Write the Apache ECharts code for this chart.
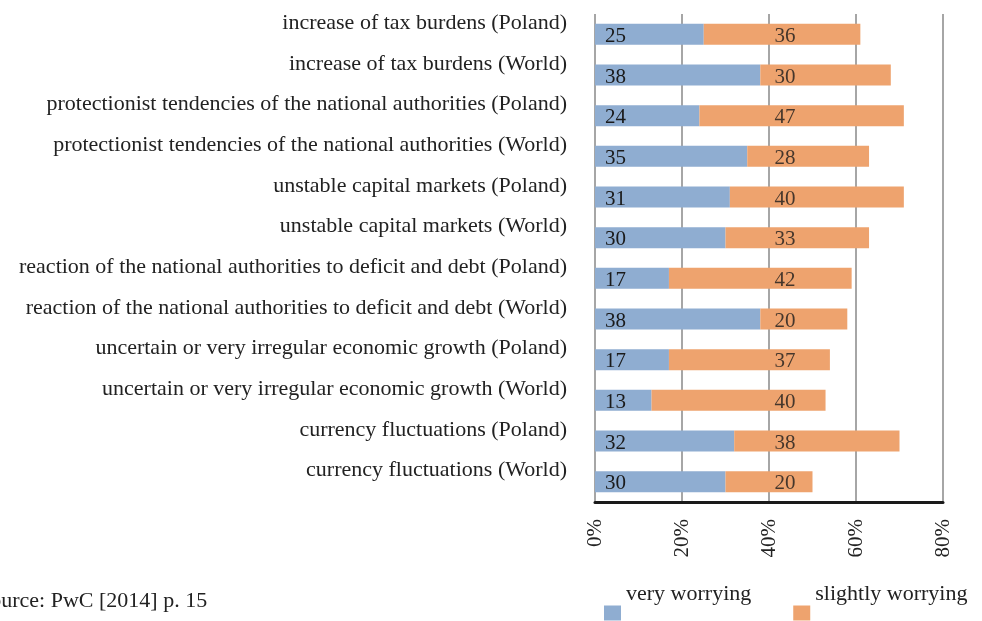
<!DOCTYPE html>
<html>
<head>
<meta charset="utf-8">
<script src="https://cdn.jsdelivr.net/npm/echarts@6/dist/echarts.min.js"></script>
<style>
  html, body { margin: 0; padding: 0; background: #fff; }
  #chart { width: 982px; height: 621px; }
</style>
</head>
<body>
<div id="chart"></div>
<script>
const categories = [
  'increase of tax burdens (Poland)',
  'increase of tax burdens (World)',
  'protectionist tendencies of the national authorities (Poland)',
  'protectionist tendencies of the national authorities (World)',
  'unstable capital markets (Poland)',
  'unstable capital markets (World)',
  'reaction of the national authorities to deficit and debt (Poland)',
  'reaction of the national authorities to deficit and debt (World)',
  'uncertain or very irregular economic growth (Poland)',
  'uncertain or very irregular economic growth (World)',
  'currency fluctuations (Poland)',
  'currency fluctuations (World)'
]
const veryWorrying = [25, 38, 24, 35, 31, 30, 17, 38, 17, 13, 32, 30]
const slightlyWorrying = [36, 30, 47, 28, 40, 33, 42, 20, 37, 40, 38, 20]
const xTicks = [0, 20, 40, 60, 80]

// orange value labels sit in a fixed column in the original
const orangeLabelAt = 43.7

const serif = '"Liberation Serif", "DejaVu Serif", serif'
const blue = '#8FADD1'
const orange = '#EEA36E'

const chart = echarts.init(document.getElementById('chart'))

const option = {
  animation: false,
  textStyle: { fontFamily: serif },
  grid: { left: 595, right: 39, top: 14, bottom: 119 },
  legend: {
    data: ['very worrying', 'slightly worrying'],
    left: 604,
    top: 583,
    padding: 0,
    itemWidth: 17,
    itemHeight: 15,
    itemGap: 42,
    icon: 'rect',
    formatter: name => '{t|' + name + '}',
    textStyle: {
      fontFamily: serif,
      fontSize: 22,
      color: '#222',
      rich: {
        t: { fontFamily: serif, fontSize: 22, color: '#222', padding: [0, 0, 38, 0] }
      }
    }
  },
  xAxis: {
    type: 'value',
    min: 0,
    max: 80,
    interval: 20,
    axisLine: { show: true, lineStyle: { color: '#1a1a1a', width: 3 } },
    axisTick: { show: false },
    splitLine: { show: true, lineStyle: { color: '#a6a6a6', width: 2 } },
    axisLabel: {
      rotate: 90,
      margin: 17,
      fontFamily: serif,
      fontSize: 21,
      color: '#222',
      formatter: v => xTicks.includes(v) ? v + '%' : ''
    }
  },
  yAxis: {
    type: 'category',
    data: categories,
    inverse: true,
    axisLine: { show: false },
    axisTick: { show: false },
    axisLabel: {
      margin: 28,
      fontFamily: serif,
      fontSize: 22,
      color: '#222',
      verticalAlign: 'bottom'
    }
  },
  series: [
    {
      name: 'very worrying',
      type: 'bar',
      stack: 'total',
      barWidth: 21,
      data: veryWorrying,
      itemStyle: { color: blue },
      label: {
        show: true,
        position: 'insideLeft',
        distance: 10,
        fontFamily: serif,
        fontSize: 21,
        color: '#1a1a1a',
        offset: [0, 2]
      }
    },
    {
      name: 'slightly worrying',
      type: 'bar',
      stack: 'total',
      barWidth: 21,
      data: slightlyWorrying,
      itemStyle: { color: orange }
    },
    {
      name: 'slightly worrying labels',
      type: 'scatter',
      symbolSize: 0,
      silent: true,
      z: 5,
      data: categories.map((c, i) => [orangeLabelAt, c, slightlyWorrying[i]]),
      label: {
        show: true,
        position: 'inside',
        fontFamily: serif,
        fontSize: 21,
        color: '#1a1a1a',
        offset: [0, 2],
        formatter: p => p.value[2]
      }
    }
  ],
  graphic: [
    {
      type: 'text',
      left: -22,
      top: 590,
      style: { text: 'Source: PwC [2014] p. 15', font: '22px ' + serif, fill: '#222' }
    }
  ]
}

chart.setOption(option)
window.addEventListener('resize', () => chart.resize())
</script>
</body>
</html>
